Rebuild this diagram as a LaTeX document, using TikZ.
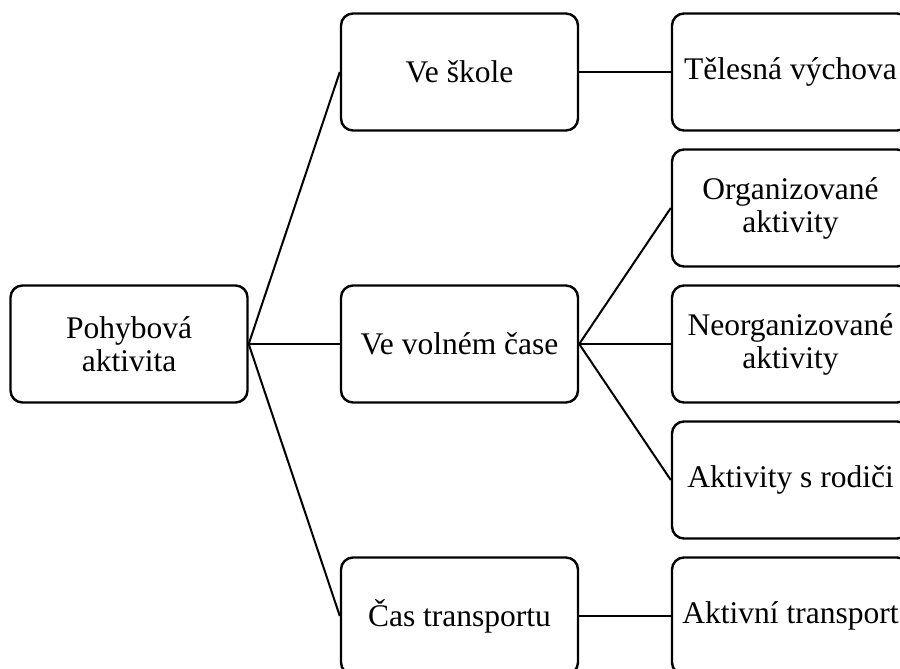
\documentclass[tikz,border=0pt]{standalone}
\usepackage{fontspec}
\setmainfont{Liberation Serif}
\begin{document}
\begin{tikzpicture}[x=1pt,y=-1pt,
    box/.style={draw, line width=2.4pt, rounded corners=12pt, minimum width=237pt,
      minimum height=117pt, align=center, inner sep=2pt,
      font=\fontsize{31.5}{33}\selectfont},
    link/.style={line width=2pt}]
    \useasboundingbox (0,0) rectangle (900,669);
    \clip (0,0) rectangle (900,669);
    % root
    \node[box] (pa) at (129,344) {Pohybová\\aktivita};
    % middle column
    \node[box] (skola) at (459.5,72) {Ve škole};
    \node[box] (volno) at (459.5,344) {Ve volném čase};
    \node[box] (cas) at (459.5,616) {Čas transportu};
    % right column
    \node[box] (tv) at (790.5,72) {Tělesná výchova};
    \node[box] (org) at (790.5,208) {Organizované\\aktivity};
    \node[box] (neorg) at (790.5,344) {Neorganizované\\aktivity};
    \node[box] (rodice) at (790.5,480) {Aktivity s rodiči};
    \node[box] (trans) at (790.5,616) {Aktivní transport};
    % connectors
    \draw[link] (pa.east) -- (skola.west);
    \draw[link] (pa.east) -- (volno.west);
    \draw[link] (pa.east) -- (cas.west);
    \draw[link] (skola.east) -- (tv.west);
    \draw[link] (volno.east) -- (org.west);
    \draw[link] (volno.east) -- (neorg.west);
    \draw[link] (volno.east) -- (rodice.west);
    \draw[link] (cas.east) -- (trans.west);
  \end{tikzpicture}
\end{document}
